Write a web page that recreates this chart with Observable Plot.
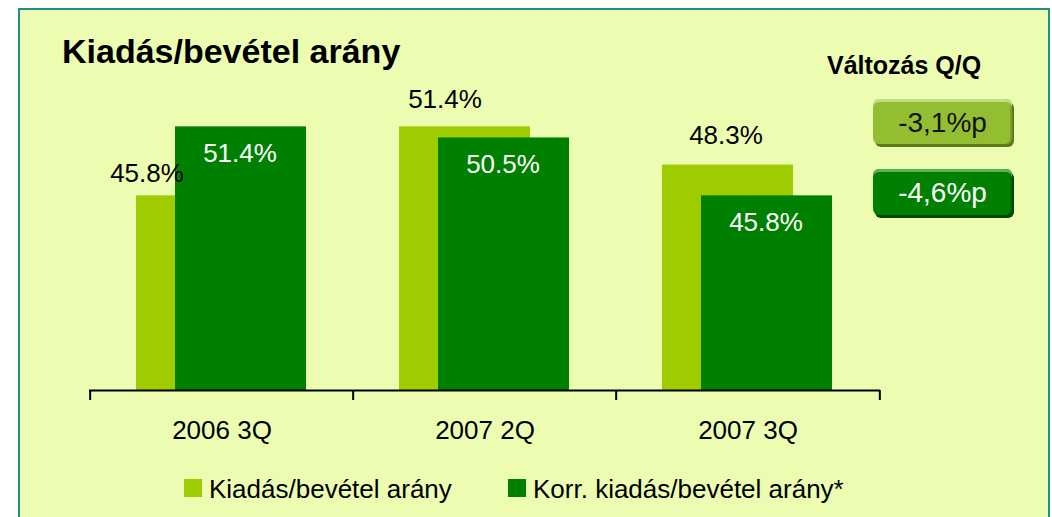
<!DOCTYPE html>
<html>
<head>
<meta charset="utf-8">
<script src="https://cdn.jsdelivr.net/npm/d3@7"></script>
<script src="https://cdn.jsdelivr.net/npm/@observablehq/plot@0.6"></script>
<style>
  html, body { margin: 0; padding: 0; background: #ffffff; }
  body { width: 1052px; height: 517px; position: relative; overflow: hidden;
         font-family: "Liberation Sans", Arial, sans-serif; }
  #frame { position: absolute; left: 18px; top: 8px; width: 1032px; height: 540px;
           box-sizing: border-box; border: 2px solid #1f8f8a; background: #ecfdb2; }
  #chart { position: absolute; left: 0; top: 0; }
  .abs { position: absolute; white-space: nowrap; line-height: 1; }
  #title { left: 62px; top: 34px; font-size: 34px; font-weight: bold; color: #000; }
  #chgTitle { left: 827px; top: 53px; font-size: 25px; font-weight: bold; color: #000; }
  .box { position: absolute; left: 873px; width: 139px; height: 45px; border-radius: 6px;
         font-size: 28px; line-height: 48px; text-align: center; box-sizing: border-box; }
  #box1 { top: 99px; background: #94be32; color: #111;
          box-shadow: inset 0 3px 0 #c4dc88, inset -2px 0 0 #7aa02a, 2px 3px 0 #5a7a18; }
  #box2 { top: 169px; height: 46px; background: #008000; color: #fff;
          box-shadow: inset 0 3px 0 #5eae5e, inset -2px 0 0 #006a00, 2px 3px 0 #004400; }
  .leg { position: absolute; top: 476px; font-size: 26px; line-height: 26px; color: #000; }
  .sw { position: absolute; width: 18px; height: 18px; top: 479px; }
</style>
</head>
<body>
<div id="frame"></div>
<div id="chart"></div>
<div id="title" class="abs"></div>
<div id="chgTitle" class="abs"></div>
<div id="box1" class="box"></div>
<div id="box2" class="box"></div>
<div id="sw1" class="sw"></div><div id="leg1" class="leg"></div>
<div id="sw2" class="sw"></div><div id="leg2" class="leg"></div>
<script>
// ---- data ----
const titleText = "Kiadás/bevétel arány";
const categories = ["2006 3Q", "2007 2Q", "2007 3Q"];
const kiadas = [45.8, 51.4, 48.3];
const korr = [51.4, 50.5, 45.8];
const seriesNames = ["Kiadás/bevétel arány", "Korr. kiadás/bevétel arány*"];
const changeTitle = "Változás Q/Q";
const changeLabels = ["-3,1%p", "-4,6%p"];

// ---- styles ----
const lightGreen = "#9fcc00";
const darkGreen = "#008000";
const font = "'Liberation Sans', Arial, sans-serif";

const rows = categories.map((c, i) => ({cat: c, kiadas: kiadas[i], korr: korr[i]}));
const fmt = v => d3.format(".1f")(v) + "%";

const W = 1052, H = 517;
const mL = 89, mR = 172, mT = 82, mB = 127;
const bw = (W - mL - mR) / categories.length;
// label nudges (style only)
const lightDx = [-75, -40, -22];
const lightDy = [-14, -19, -21];

const lightLabels = rows.map((r, i) => Plot.text([r], {
  x: "cat", y: "kiadas", text: d => fmt(d.kiadas), lineAnchor: "bottom",
  dx: lightDx[i], dy: lightDy[i], fill: "#000", fontSize: 26
}));

const chart = Plot.plot({
  width: W, height: H,
  marginLeft: mL, marginRight: mR, marginTop: mT, marginBottom: mB,
  style: {background: "transparent", fontFamily: font, overflow: "visible"},
  x: {type: "band", domain: categories, padding: 0, axis: null},
  y: {domain: [30, 55], axis: null},
  marks: [
    Plot.barY(rows, {x: "cat", y1: 30, y2: "kiadas", fill: lightGreen, insetLeft: 46, insetRight: 86}),
    Plot.barY(rows, {x: "cat", y1: 30, y2: "korr", fill: darkGreen, insetLeft: 85, insetRight: 47}),
    Plot.ruleY([30], {stroke: "#000", strokeWidth: 2}),
    Plot.axisX({tickSize: 10, dx: -bw / 2, text: null, label: null, strokeWidth: 2, stroke: "#000", strokeOpacity: 1}),
    Plot.axisX([categories[categories.length - 1]], {tickSize: 10, dx: bw / 2, text: null, label: null, strokeWidth: 2, stroke: "#000", strokeOpacity: 1}),
    Plot.axisX({tickSize: 0, tickPadding: 30, label: null, fontSize: 26, fill: "#000"}),
    ...lightLabels,
    Plot.text(rows, {x: "cat", y: "korr", text: d => fmt(d.korr), lineAnchor: "bottom",
      dx: 18, dy: 35, fill: "#fff", fontSize: 26})
  ]
});
document.getElementById("chart").appendChild(chart);

document.getElementById("title").textContent = titleText;
document.getElementById("chgTitle").textContent = changeTitle;
document.getElementById("box1").textContent = changeLabels[0];
document.getElementById("box2").textContent = changeLabels[1];

const sw1 = document.getElementById("sw1"), sw2 = document.getElementById("sw2");
sw1.style.left = "184px"; sw1.style.background = lightGreen;
sw2.style.left = "508px"; sw2.style.background = darkGreen;
const l1 = document.getElementById("leg1"), l2 = document.getElementById("leg2");
l1.style.left = "209px"; l1.textContent = seriesNames[0];
l2.style.left = "533px"; l2.textContent = seriesNames[1];
</script>
</body>
</html>
